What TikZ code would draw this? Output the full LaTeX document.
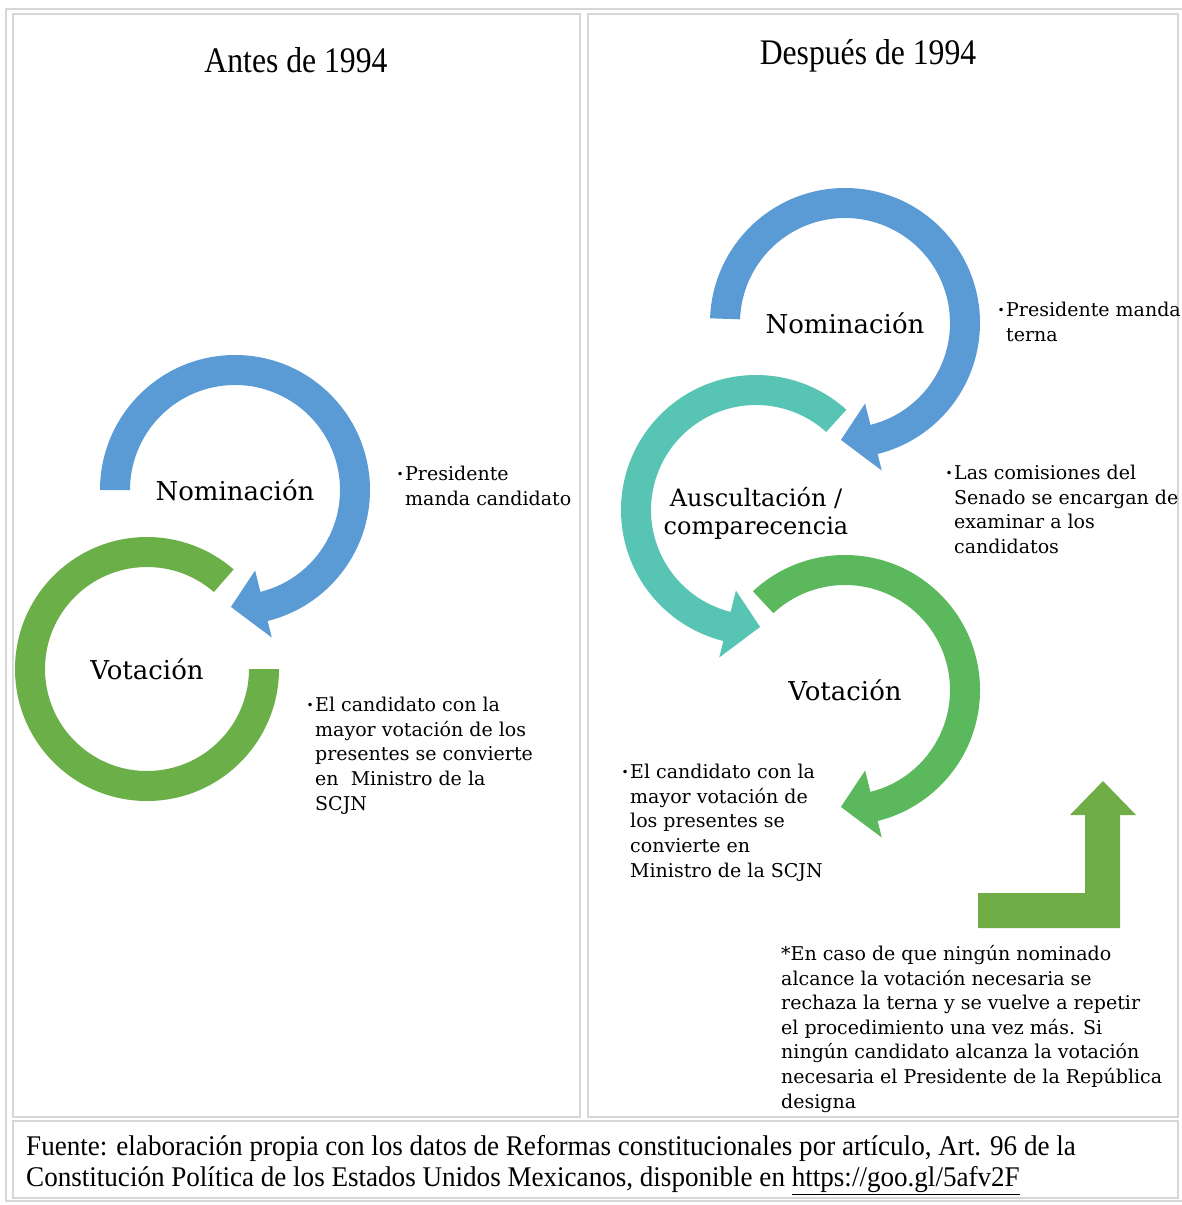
\documentclass[tikz,border=0pt]{standalone}
\usepackage{fontspec}
\setmainfont{DejaVu Serif}
\newfontfamily\estrecha{Liberation Serif}[FakeStretch=0.88]
\newfontfamily\fuentefam{Liberation Serif}[FakeStretch=0.95]
\definecolor{azul}{RGB}{91,155,213}
\definecolor{turquesa}{RGB}{88,196,180}
\definecolor{verdeA}{RGB}{106,175,72}
\definecolor{verdeB}{RGB}{92,184,92}
\definecolor{verdeL}{RGB}{112,173,71}
\definecolor{rejilla}{RGB}{215,215,215}
\newcommand{\punto}{\llap{\raisebox{2pt}{\fontsize{12}{12}\selectfont •}\hspace{1.5pt}}}

\begin{document}
\begin{tikzpicture}[
    x=1pt, y=-1pt,
    titulo/.style={font=\estrecha\fontsize{36}{40}\selectfont, inner sep=0pt},
    etapa/.style={font=\fontsize{26}{30}\selectfont, inner sep=0pt},
    vineta/.style={anchor=north west, align=left, inner sep=0pt,
        font=\fontsize{19}{24.6}\selectfont},
    celda/.style={draw=rejilla, line width=1.5pt}
]
\useasboundingbox (0,0) rectangle (1182,1205);

%Draw the table
\draw[celda] (6,9) rectangle (1195,1201);
\draw[celda] (13,14) rectangle (580,1117);
\draw[celda] (588,14) rectangle (1178,1117);
\draw[celda] (13,1121) rectangle (1178,1198);

\node[titulo] (antes) at (296,60) {Antes de 1994};
\node[titulo] (despues) at (868,56) {Después de 1994};

%Centres of the rings
\coordinate (cNomA) at (235,490);
\coordinate (cVotA) at (147,669);
\coordinate (cNomB) at (845,323);
\coordinate (cAusB) at (756,510);
\coordinate (cVotB) at (845,690);

%Draw the rings, before 1994
\fill[azul] ([shift={(180:135)}]cNomA) arc[start angle=180, end angle=436, radius=135]
  -- ([shift={(436:152)}]cNomA) -- ([shift={(452:117)}]cNomA) -- ([shift={(436:83)}]cNomA)
  -- ([shift={(436:105)}]cNomA) arc[start angle=436, end angle=180, radius=105] -- cycle;
\fill[verdeA] ([shift={(0:132)}]cVotA) arc[start angle=0, end angle=311, radius=132]
  -- ([shift={(311:102)}]cVotA) arc[start angle=311, end angle=0, radius=102] -- cycle;

%Draw the rings, after 1994
\fill[azul] ([shift={(182:135)}]cNomB) arc[start angle=182, end angle=436, radius=135]
  -- ([shift={(436:152)}]cNomB) -- ([shift={(452:117)}]cNomB) -- ([shift={(436:83)}]cNomB)
  -- ([shift={(436:105)}]cNomB) arc[start angle=436, end angle=182, radius=105] -- cycle;
\fill[turquesa] ([shift={(-48:135)}]cAusB) arc[start angle=-48, end angle=-256, radius=135]
  -- ([shift={(-256:152)}]cAusB) -- ([shift={(-272:117)}]cAusB) -- ([shift={(-256:83)}]cAusB)
  -- ([shift={(-256:105)}]cAusB) arc[start angle=-256, end angle=-48, radius=105] -- cycle;
\fill[verdeB] ([shift={(227:135)}]cVotB) arc[start angle=227, end angle=436, radius=135]
  -- ([shift={(436:152)}]cVotB) -- ([shift={(452:117)}]cVotB) -- ([shift={(436:83)}]cVotB)
  -- ([shift={(436:105)}]cVotB) arc[start angle=436, end angle=227, radius=105] -- cycle;

%Draw the bent arrow
\fill[verdeL] (978,893) -- (1085,893) -- (1085,815) -- (1070,815) -- (1103,781)
  -- (1136,815) -- (1120,815) -- (1120,928) -- (978,928) -- cycle;

%Stage labels
\node[etapa] (nomA) at (cNomA) {Nominación};
\node[etapa] (votA) at (cVotA) {Votación};
\node[etapa] (nomB) at (cNomB) {Nominación};
\node[etapa, align=center, font=\fontsize{24}{28}\selectfont] (ausB) at ([yshift=-3]cAusB) {Auscultación /\\comparecencia};
\node[etapa] (votB) at (cVotB) {Votación};

%Bullet texts
\node[vineta] (txtNomA) at (405,466) {\punto Presidente\\manda candidato};
\node[vineta] (txtVotA) at (315,697) {\punto El candidato con la\\mayor votación de los\\presentes se convierte\\en\ \ Ministro de la\\SCJN};
\node[vineta] (txtNomB) at (1006,302) {\punto Presidente manda\\terna};
\node[vineta] (txtAusB) at (954,465) {\punto Las comisiones del\\Senado se encargan de\\examinar a los\\candidatos};
\node[vineta] (txtVotB) at (630,764) {\punto El candidato con la\\mayor votación de\\los presentes se\\convierte en\\Ministro de la SCJN};
\node[vineta] (nota) at (781,945) {*En caso de que ningún nominado\\alcance la votación necesaria se\\rechaza la terna y se vuelve a repetir\\el procedimiento una vez más. Si\\ningún candidato alcanza la votación\\necesaria el Presidente de la República\\designa};

%Source
\node[vineta, font=\fuentefam\fontsize{28.5}{31}\selectfont] (fuente) at (26,1135) {Fuente: elaboración propia con los datos de Reformas constitucionales por artículo, Art. 96 de la\\Constitución Política de los Estados Unidos Mexicanos, disponible en \underline{https://goo.gl/5afv2F}};

\end{tikzpicture}
\end{document}
